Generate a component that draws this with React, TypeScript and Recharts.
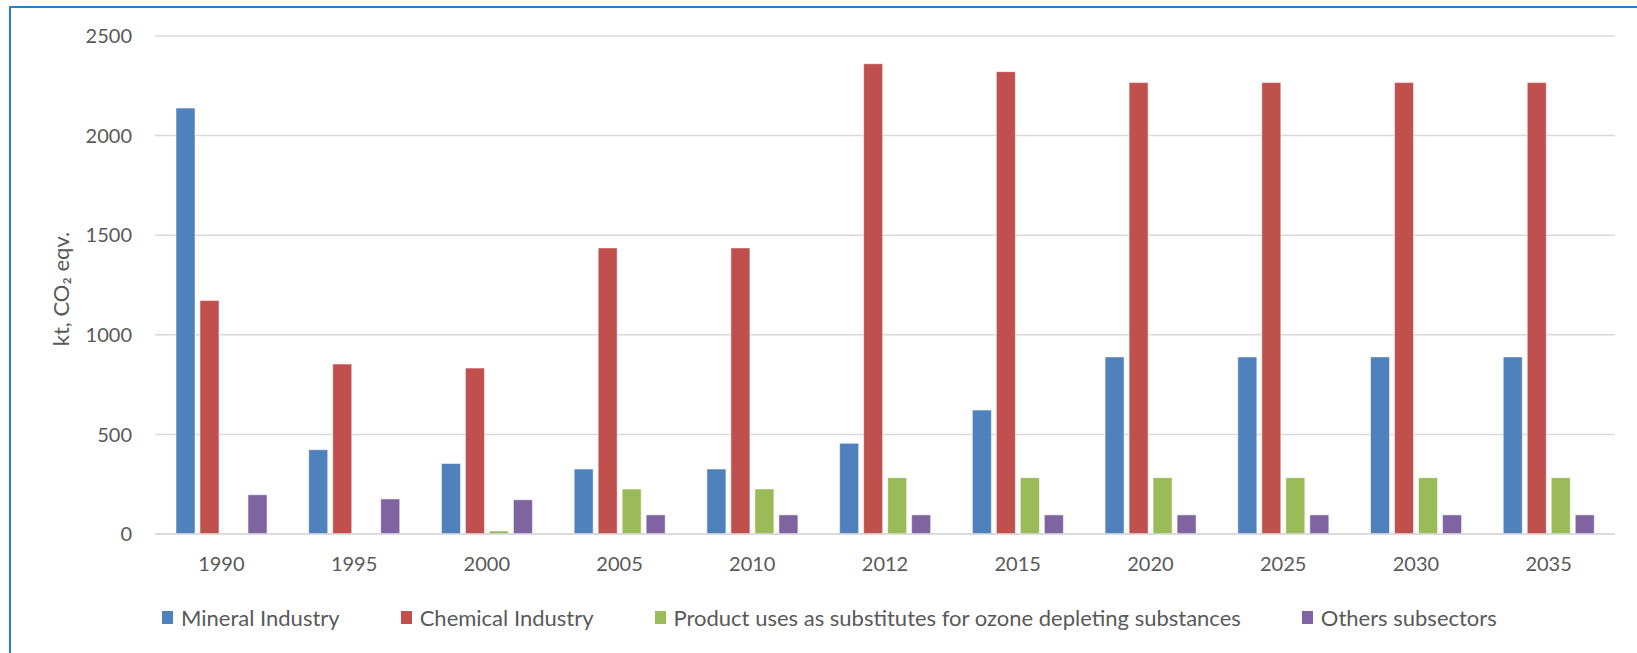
import { BarChart, Bar, XAxis, YAxis, CartesianGrid, Label } from 'recharts';

const years = ['1990', '1995', '2000', '2005', '2010', '2012', '2015', '2020', '2025', '2030', '2035'];
const mineral = [2138, 423, 354, 326, 326, 455, 622, 889, 889, 889, 889];
const chemical = [1172, 853, 833, 1436, 1436, 2361, 2321, 2266, 2266, 2266, 2266];
const ods = [0, 0, 15, 226, 226, 283, 283, 283, 283, 283, 283];
const others = [197, 176, 172, 96, 96, 96, 96, 96, 96, 96, 96];
const yTicks = [0, 500, 1000, 1500, 2000, 2500];

const series = [
    { key: 'mineral', name: 'Mineral Industry', color: '#4F81BD' },
    { key: 'chemical', name: 'Chemical Industry', color: '#C0504D' },
    { key: 'ods', name: 'Product uses as substitutes for ozone depleting substances', color: '#9BBB59' },
    { key: 'others', name: 'Others subsectors', color: '#8064A2' },
];

const data = years.map((year, i) => ({
    year,
    mineral: mineral[i],
    chemical: chemical[i],
    ods: ods[i],
    others: others[i],
}));

const textColor = '#595959';
const tickFont = { fontSize: 20, fill: textColor, fontFamily: 'Lato, sans-serif' };

function YLabel(props: any) {
    const vb = props.viewBox || { x: 0, y: 0, height: 0 };
    const cx = vb.x + 60;
    const cy = vb.y + vb.height / 2 + 4;
    return (
        <text
            x={cx}
            y={cy}
            transform={`rotate(-90, ${cx}, ${cy})`}
            textAnchor="middle"
            dominantBaseline="central"
            fontSize={22}
            fontFamily="Lato, sans-serif"
            fill={textColor}
        >
            kt, CO₂ eqv.
        </text>
    );
}

export default function App() {
    return (
        <div
            style={{
                position: 'fixed',
                left: 0,
                top: 0,
                width: 1637,
                height: 653,
                overflow: 'hidden',
                background: '#fff',
            }}
        >
            <div
                style={{
                    position: 'absolute',
                    left: 9,
                    top: 6,
                    width: 1700,
                    height: 700,
                    border: '2px solid #2A7BD4',
                }}
            />
            <div style={{ position: 'absolute', left: 0, top: 0 }}>
                <BarChart
                    width={1637}
                    height={653}
                    data={data}
                    margin={{ top: 36, right: 22, left: 0, bottom: 88 }}
                    barSize={19}
                    barGap={5}
                >
                    <CartesianGrid vertical={false} stroke="#d9d9d9" strokeWidth={1.5} />
                    <XAxis
                        dataKey="year"
                        tick={tickFont}
                        tickLine={false}
                        tickSize={0}
                        tickMargin={23}
                        axisLine={{ stroke: '#d9d9d9', strokeWidth: 1.5 }}
                        height={31}
                        interval={0}
                    />
                    <YAxis
                        domain={[0, 2500]}
                        ticks={yTicks}
                        tick={tickFont}
                        tickLine={false}
                        tickSize={0}
                        tickMargin={23}
                        axisLine={false}
                        width={155}
                    >
                        <Label content={YLabel} />
                    </YAxis>
                    {series.map((s) => (
                        <Bar
                            key={s.key}
                            dataKey={s.key}
                            name={s.name}
                            fill={s.color}
                            stroke="rgba(255,255,255,0.5)"
                            strokeWidth={1}
                            isAnimationActive={false}
                        />
                    ))}
                </BarChart>
            </div>
            <div
                style={{
                    position: 'absolute',
                    left: 162,
                    top: 604,
                    display: 'flex',
                    alignItems: 'center',
                    gap: 61,
                    fontFamily: 'Lato, sans-serif',
                    fontSize: 22,
                    color: textColor,
                    whiteSpace: 'nowrap',
                }}
            >
                {series.map((s) => (
                    <div key={s.key} style={{ display: 'flex', alignItems: 'center', gap: 8 }}>
                        <span style={{ display: 'inline-block', width: 11, height: 13, background: s.color }} />
                        <span>{s.name}</span>
                    </div>
                ))}
            </div>
        </div>
    );
}
